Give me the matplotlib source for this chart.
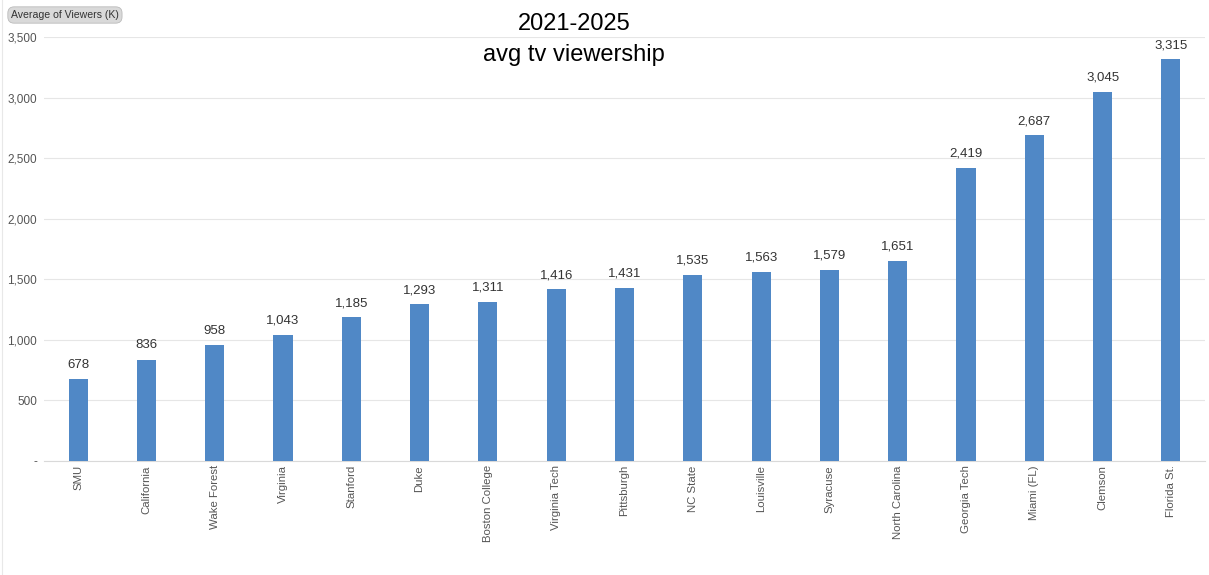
import matplotlib
matplotlib.use("Agg")
import matplotlib.pyplot as plt
from matplotlib.ticker import FuncFormatter

teams = ["SMU", "California", "Wake Forest", "Virginia", "Stanford", "Duke",
         "Boston College", "Virginia Tech", "Pittsburgh", "NC State", "Louisville",
         "Syracuse", "North Carolina", "Georgia Tech", "Miami (FL)", "Clemson",
         "Florida St."]
viewers = [678, 836, 958, 1043, 1185, 1293, 1311, 1416, 1431, 1535, 1563,
           1579, 1651, 2419, 2687, 3045, 3315]
yticks = [0, 500, 1000, 1500, 2000, 2500, 3000, 3500]

plt.rcParams['font.family'] = ['Liberation Sans', 'DejaVu Sans']

fig = plt.figure(figsize=(12.09, 5.75), dpi=100)
ax = fig.add_axes([44/1209, 1-461/575, (1205-44)/1209, (461-37)/575])

x = list(range(len(teams)))
bars = ax.bar(x, viewers, width=0.28, color="#5088c6", zorder=3)
for xi, v in zip(x, viewers):
    ax.annotate(f"{v:,}", (xi, v), xytext=(0, 6), textcoords="offset points",
                ha="center", va="bottom", fontsize=9.5, color="#333333")

ax.set_xlim(-0.5, len(teams) - 0.5)
ax.set_ylim(0, 3500)
ax.set_yticks(yticks)
ax.yaxis.set_major_formatter(FuncFormatter(lambda v, p: "-" if v == 0 else f"{int(v):,}"))
ax.set_xticks(x)
ax.set_xticklabels(teams, rotation=90, fontsize=8.2, color="#555555")
ax.tick_params(axis="y", labelsize=8.5, labelcolor="#555555", length=0, pad=5)
ax.tick_params(axis="x", length=0, pad=3)
ax.grid(axis="y", color="#e6e6e6", linewidth=0.8, zorder=0)
for s in ["top", "right", "left"]:
    ax.spines[s].set_visible(False)
ax.spines["bottom"].set_color("#d9d9d9")

fig.text(574/1209, 1-39.5/575, "2021-2025\navg tv viewership", ha="center", va="center",
         fontsize=17, color="black", linespacing=1.5)
fig.text(11/1209, 1-15/575, "Average of Viewers (K)", ha="left", va="center",
         fontsize=7.6, color="#333333",
         bbox=dict(boxstyle="round,pad=0.3,rounding_size=0.6", fc="#d9d9d9", ec="#bbbbbb", lw=0.6))
fig.add_artist(plt.Line2D([2/1209, 2/1209], [0, 1], transform=fig.transFigure,
                          color="#e8e8e8", linewidth=0.8))

fig.savefig("out.png", dpi=100)
